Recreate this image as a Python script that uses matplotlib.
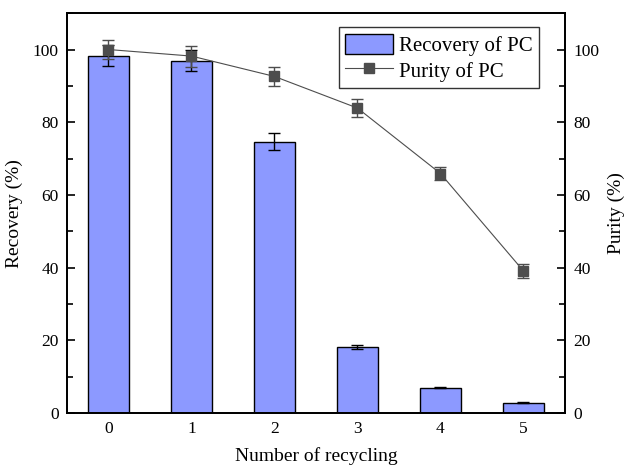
import numpy as np
import matplotlib.pyplot as plt
from matplotlib.ticker import MultipleLocator
from matplotlib.lines import Line2D

plt.rcParams['font.family'] = ['Liberation Serif', 'DejaVu Serif']
plt.rcParams['mathtext.fontset'] = 'stix'

# recycling runs
cycles = [0, 1, 2, 3, 4, 5]
recovery = [98.3, 96.9, 74.7, 18.2, 7.0, 2.9]
recovery_err = [2.9, 2.9, 2.3, 0.5, 0.2, 0.2]
purity = [100.0, 98.2, 92.6, 83.9, 65.9, 39.1]
purity_err = [2.7, 2.9, 2.7, 2.5, 1.9, 1.8]

fig, ax = plt.subplots(figsize=(6.25, 4.7), dpi=100)
fig.subplots_adjust(left=0.107, right=0.904, top=0.972, bottom=0.121)

bars = ax.bar(cycles, recovery, width=0.5, color='#8c99ff', edgecolor='black',
              linewidth=1.0, yerr=recovery_err, capsize=4,
              error_kw=dict(elinewidth=1.0, capthick=1.0, ecolor='black'),
              zorder=2)

ax2 = ax.twinx()
ax2.errorbar(cycles, purity, yerr=purity_err, color='#4d4d4d', marker='s',
             markersize=7, linewidth=0.8, capsize=4, elinewidth=1.0,
             capthick=1.0, ecolor='#4d4d4d', zorder=3)

for a in (ax, ax2):
    a.set_ylim(0, 110)
    a.yaxis.set_major_locator(MultipleLocator(20))
    a.yaxis.set_minor_locator(MultipleLocator(10))
    for s in a.spines.values():
        s.set_linewidth(1.3)

ax.set_xlim(-0.5, 5.5)
ax.set_xticks(cycles)
ax.tick_params(axis='both', which='major', direction='in', length=6, width=1.2,
               labelsize=12.5, top=False, right=False, pad=6)
ax.tick_params(axis='y', which='minor', direction='in', length=4, width=1.2)
ax2.tick_params(axis='y', which='major', direction='in', length=6, width=1.2,
                labelsize=12.5, pad=6)
ax2.tick_params(axis='y', which='minor', direction='in', length=4, width=1.2)

ax.set_xlabel('Number of recycling', fontsize=14, labelpad=7)
ax.set_ylabel('Recovery (%)', fontsize=14, labelpad=7)
ax2.set_ylabel('Purity (%)', fontsize=14, labelpad=6)

# legend line without the error bars
purity_handle = Line2D([], [], color='#4d4d4d', marker='s', markersize=7,
                       linewidth=0.8)
leg = ax2.legend([bars, purity_handle], ['Recovery of PC', 'Purity of PC'],
                 loc='upper right', bbox_to_anchor=(0.956, 0.975),
                 fontsize=15, frameon=True, fancybox=False, framealpha=1,
                 edgecolor='#333333', handlelength=2.3, handleheight=1.1,
                 borderpad=0.3, labelspacing=0.2, handletextpad=0.3,
                 borderaxespad=0.2)
leg.get_frame().set_linewidth(1.0)

fig.savefig('out.png', dpi=100)
